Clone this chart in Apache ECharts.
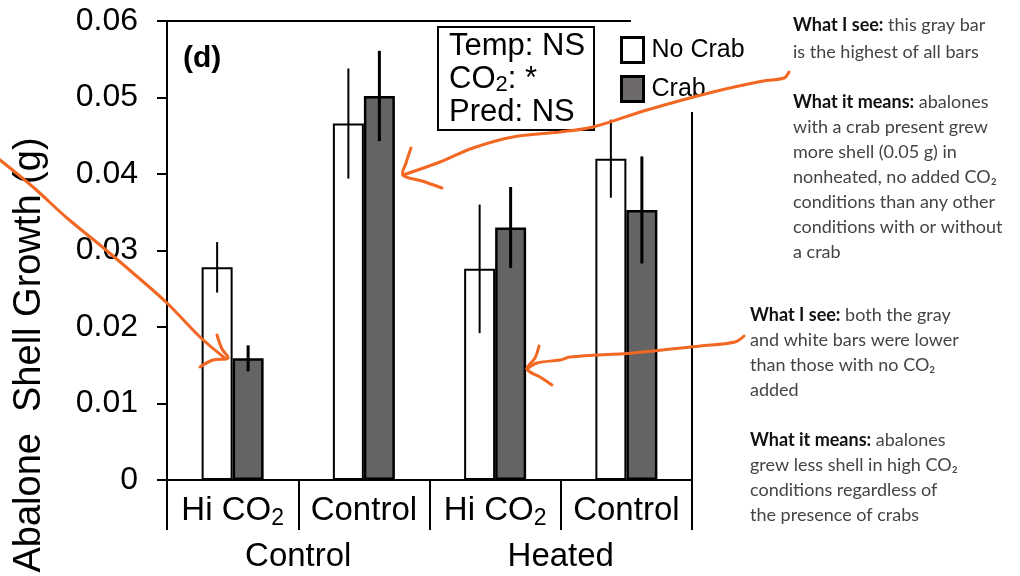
<!DOCTYPE html>
<html>
<head>
<meta charset="utf-8">
<script src="https://cdn.jsdelivr.net/npm/echarts@6/dist/echarts.min.js"></script>
<style>
  html, body { margin: 0; padding: 0; background: #fff; }
  #chart { width: 1020px; height: 576px; }
</style>
</head>
<body>
<div id="chart"></div>
<script>
// CO2 treatment within each temperature group
const categories = ['Hi CO2', 'Control', 'Hi CO2', 'Control'];
const tempGroups = ['Control', 'Heated'];

// mean shell growth (g) and standard error
const noCrab   = [0.0278, 0.0466, 0.0276, 0.0420];
const noCrabSE = [0.0033, 0.0072, 0.0084, 0.0051];
const crab     = [0.0159, 0.0502, 0.0330, 0.0353];
const crabSE   = [0.0017, 0.0059, 0.0053, 0.0070];

// y axis range
const yMin = 0, yMax = 0.06, yStep = 0.01;

// statistics box lines
const statLines = ['Temp: NS', 'CO{s|2}: *', 'Pred: NS'];

// handwritten notes
const noteTop = ['{b|What I see:} this gray bar', 'is the highest of all bars'];
const noteTopMeaning = ['{b|What it means:} abalones', 'with a crab present grew', 'more shell (0.05 g) in',
  'nonheated, no added CO\u2082', 'conditions than any other', 'conditions with or without', 'a crab'];
const noteLow = ['{b|What I see:} both the gray', 'and white bars were lower', 'than those with no CO\u2082', 'added'];
const noteLowMeaning = ['{b|What it means:} abalones', 'grew less shell in high CO\u2082',
  'conditions regardless of', 'the presence of crabs'];

const FONT = '"Liberation Sans", Arial, sans-serif';
const HAND = 'Lato, "Open Sans", sans-serif';
const NOTE_SIZE = 18;
const ORANGE = '#f26722';
const BAR_W = 31;
const GRAY = '#646464';

const chart = echarts.init(document.getElementById('chart'));

function errorBarRenderer(side, width) {
  return function (params, api) {
    const i = api.value(0), m = api.value(1), se = api.value(2);
    const top = api.coord([i, m + se]);
    const bot = api.coord([i, m - se]);
    const x = top[0] + side * BAR_W / 2;
    return {
      type: 'line',
      shape: { x1: x, y1: top[1], x2: x, y2: bot[1] },
      style: { stroke: '#000', lineWidth: width }
    };
  };
}

function subCO2(v) {
  return v.replace('CO2', 'CO{s|2}');
}

function noteText(lines) { return lines.join('\n'); }

const noteRich = { b: { fontWeight: 'bold', fill: '#111', fontFamily: HAND, fontSize: NOTE_SIZE } };

function note(x, y, lines, lh) {
  return {
    type: 'text', z: 10, x: x, y: y,
    style: { text: noteText(lines), font: NOTE_SIZE + 'px ' + HAND, fill: '#444', lineHeight: lh, rich: noteRich }
  };
}

function arrow(points) {
  return {
    type: 'polyline', z: 20,
    shape: { points: points, smooth: 0.35 },
    style: { stroke: ORANGE, lineWidth: 3, fill: null, lineCap: 'round', lineJoin: 'round' }
  };
}

const option = {
  animation: false,
  backgroundColor: '#fff',
  grid: { left: 167, top: 21, right: 328, bottom: 89, show: true, borderColor: '#000', borderWidth: 2, backgroundColor: 'transparent' },
  title: {
    text: statLines.join('\n'),
    left: 438, top: 27,
    padding: [3, 9, 1, 11],
    borderColor: '#000', borderWidth: 2,
    textStyle: {
      fontFamily: FONT, fontSize: 31, fontWeight: 'normal', color: '#000', lineHeight: 33,
      rich: { s: { fontFamily: FONT, fontSize: 22, lineHeight: 20, verticalAlign: 'bottom', color: '#000' } }
    }
  },
  legend: {
    orient: 'vertical', left: 620, top: 36, padding: 0, itemWidth: 22, itemHeight: 25, itemGap: 11, z: 10,
    textStyle: { fontFamily: FONT, fontSize: 25, color: '#000', padding: [0, 0, 0, 3] },
    data: [
      { name: 'No Crab', icon: 'rect', itemStyle: { color: '#fff', borderColor: '#000', borderWidth: 3 } },
      { name: 'Crab', icon: 'rect', itemStyle: { color: '#6e6a6a', borderColor: '#000', borderWidth: 3 } }
    ]
  },
  xAxis: [
    {
      type: 'category', data: categories, position: 'bottom',
      axisLine: { lineStyle: { color: '#000', width: 2 } },
      axisTick: { show: true, interval: 0, length: 50, lineStyle: { color: '#000', width: 2 } },
      axisLabel: {
        interval: 0, margin: 12, fontFamily: FONT, fontSize: 33, color: '#000', lineHeight: 38,
        formatter: subCO2,
        rich: { s: { fontFamily: FONT, fontSize: 23, lineHeight: 24, verticalAlign: 'bottom', color: '#000' } }
      },
      splitLine: { show: false }
    },
    {
      type: 'category', data: tempGroups, position: 'bottom', offset: 0,
      axisLine: { show: false }, axisTick: { show: false },
      axisLabel: { interval: 0, margin: 58, fontFamily: FONT, fontSize: 33, color: '#000', lineHeight: 38 },
      splitLine: { show: false }
    }
  ],
  yAxis: {
    type: 'value', min: yMin, max: yMax, interval: yStep,
    axisLine: { show: true, lineStyle: { color: '#000', width: 2 } },
    axisTick: { show: true, length: 10, lineStyle: { color: '#000', width: 2 } },
    axisLabel: {
      margin: 29, fontFamily: FONT, fontSize: 32, color: '#000',
      formatter: v => (v === 0 ? '0' : v.toFixed(2))
    },
    splitLine: { show: false }
  },
  series: [
    {
      name: 'No Crab', type: 'bar', data: noCrab, barWidth: BAR_W, barGap: '0%',
      itemStyle: { color: '#fff', borderColor: '#000', borderWidth: 2 }
    },
    {
      name: 'Crab', type: 'bar', data: crab, barWidth: BAR_W, barGap: '0%',
      itemStyle: { color: GRAY, borderColor: '#000', borderWidth: 2.5 }
    },
    {
      name: 'No Crab SE', type: 'custom', z: 5,
      data: noCrab.map((v, i) => [i, v, noCrabSE[i]]),
      encode: { x: 0, y: 1 },
      renderItem: errorBarRenderer(-1, 2)
    },
    {
      name: 'Crab SE', type: 'custom', z: 5,
      data: crab.map((v, i) => [i, v, crabSE[i]]),
      encode: { x: 0, y: 1 },
      renderItem: errorBarRenderer(1, 3)
    }
  ],
  graphic: [
    // clears the frame corner behind the legend
    { type: 'rect', z: 3, shape: { x: 631, y: 0, width: 80, height: 112 }, style: { fill: '#fff' } },
    // panel letter
    { type: 'text', z: 10, x: 183, y: 59,
      style: { text: '(d)', font: 'bold 30px ' + FONT, fill: '#000', verticalAlign: 'middle' } },
    // y axis title
    { type: 'text', z: 10, x: 30, y: 355, rotation: Math.PI / 2,
      style: { text: 'Abalone  Shell Growth (g)', font: '38px ' + FONT, fill: '#000', align: 'center', verticalAlign: 'middle' } },
    // notes
    note(793, 12, noteTop, 27),
    note(793, 90, noteTopMeaning, 25),
    note(750, 303, noteLow, 25),
    note(750, 428, noteLowMeaning, 25),
    // arrows
    arrow([[-5, 156], [33, 187], [67, 218], [100, 245], [133, 273], [167, 303], [200, 337], [226, 359]]),
    arrow([[217, 335], [222, 349], [228, 358], [213, 360], [200, 367]]),
    arrow([[789, 72], [784, 78], [763, 81], [713, 92], [647, 110], [593, 127], [560, 132], [513, 137], [473, 148], [440, 162], [403, 175]]),
    arrow([[411, 148], [406, 163], [403, 175], [422, 181], [442, 188]]),
    arrow([[744, 336], [735, 342], [700, 346], [633, 353], [570, 357], [560, 360], [537, 363], [527, 369]]),
    arrow([[539, 346], [535, 358], [527, 369], [540, 377], [552, 385]])
  ]
};

chart.setOption(option);
</script>
</body>
</html>
